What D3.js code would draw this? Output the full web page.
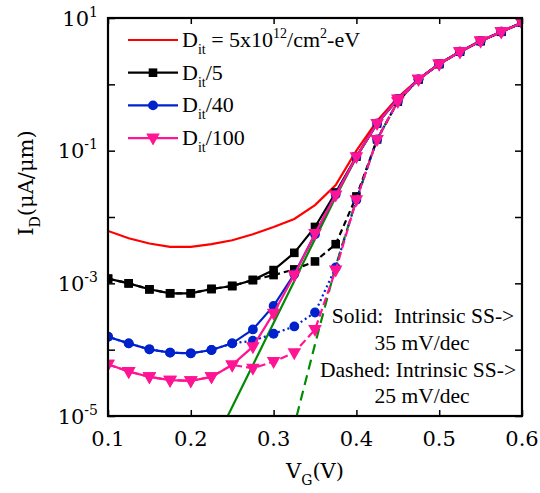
<!DOCTYPE html>
<html><head><meta charset="utf-8">
<script src="https://d3js.org/d3.v7.min.js"></script>
<style>body{margin:0;background:#fff}</style>
</head><body><svg id="c" width="540" height="493"></svg>
<script>
// Gate voltage samples (V)
const vg = [0.1,0.125,0.15,0.175,0.2,0.225,0.25,0.275,0.3,0.325,0.35,0.375,0.4,0.425,0.45,0.475,0.5,0.525,0.55,0.575,0.6];
// log10 of I_D (uA/um)
const redSolid   = [-2.21,-2.32,-2.40,-2.45,-2.45,-2.41,-2.35,-2.26,-2.15,-2.03,-1.82,-1.52,-1.00,-0.55,-0.20,0.08,0.31,0.49,0.65,0.79,0.93];
const blackSolid = [-2.93,-3.00,-3.09,-3.15,-3.15,-3.085,-3.04,-2.95,-2.80,-2.54,-2.15,-1.63,-1.09,-0.59,-0.22,0.076,0.307,0.492,0.653,0.793,0.929];
const blackDash  = [-2.93,-3.00,-3.09,-3.15,-3.15,-3.085,-3.04,-2.95,-2.875,-2.79,-2.67,-2.41,-1.69,-0.83,-0.26,0.076,0.307,0.492,0.653,0.793,0.929];
const blueSolid  = [-3.805,-3.905,-3.995,-4.045,-4.055,-4.005,-3.905,-3.695,-3.34,-2.86,-2.26,-1.66,-1.09,-0.59,-0.22,0.076,0.307,0.492,0.653,0.793,0.929];
const blueDot    = [-3.805,-3.905,-3.995,-4.045,-4.055,-4.005,-3.905,-3.865,-3.76,-3.65,-3.44,-2.76,-1.74,-0.83,-0.26,0.076,0.307,0.492,0.653,0.793,0.929];
const pinkSolid  = [-4.22,-4.33,-4.41,-4.46,-4.47,-4.41,-4.23,-3.955,-3.45,-2.875,-2.25,-1.67,-1.09,-0.59,-0.22,0.076,0.307,0.492,0.653,0.793,0.929];
const pinkDash   = [-4.22,-4.33,-4.41,-4.46,-4.47,-4.41,-4.23,-4.28,-4.18,-4.045,-3.695,-2.80,-1.74,-0.83,-0.26,0.076,0.307,0.492,0.653,0.793,0.929];
// intrinsic (Dit = 0) curves
const greenSolidV = [0.2446,0.375,0.4,0.425,0.45,0.475,0.5,0.525,0.55,0.575,0.6];
const greenSolid  = [-5.0,-1.70,-1.10,-0.59,-0.22,0.076,0.307,0.492,0.653,0.793,0.929];
const greenDashV  = [0.3279,0.35,0.375,0.4,0.425,0.45,0.475,0.5,0.525,0.55,0.575,0.6];
const greenDash   = [-5.0,-3.92,-2.74,-1.74,-0.83,-0.26,0.076,0.307,0.492,0.653,0.793,0.929];

const xTicks = [0.1,0.2,0.3,0.4,0.5,0.6];
const yTickExp = [1,0,-1,-2,-3,-4,-5];
const yLabelExp = [1,-1,-3,-5];
const annotation = ["Solid:  Intrinsic SS->","35 mV/dec","Dashed: Intrinsic SS->","25 mV/dec"];

const FONT = "DejaVu Serif";
const TFONT = "Liberation Serif";
const svg = d3.select("#c");
const L = 108, R = 522, T = 18, B = 416;
const x = d3.scaleLinear().domain([0.1,0.6]).range([L,R]);
const y = d3.scaleLog().domain([1e-5,10]).range([B,T]);

svg.append("clipPath").attr("id","clip").append("rect")
  .attr("x",L).attr("y",T).attr("width",R-L).attr("height",B-T);
const plot = svg.append("g").attr("clip-path","url(#clip)");

const toPts = (vs, ls) => vs.map((v,i)=>[v, Math.pow(10, ls[i])]);
const line = d3.line().x(d=>x(d[0])).y(d=>y(d[1]));

const RED="#ff0000", BLUE="#0022cc", PINK="#ff1493", GREEN="#008c00";

function marker(g, kind, cx, cy, color){
  if(kind==="sq") g.append("rect").attr("x",cx-4.3).attr("y",cy-4.3).attr("width",8.6).attr("height",8.6).attr("fill",color);
  else if(kind==="ci") g.append("circle").attr("cx",cx).attr("cy",cy).attr("r",4.9).attr("fill",color);
  else if(kind==="tr") g.append("path").attr("d",`M${cx-6.8},${cy-4.5} L${cx+6.8},${cy-4.5} L${cx},${cy+7.5} Z`).attr("fill",color);
}
function drawLine(pts, color, dash){
  plot.append("path").datum(pts).attr("d",line).attr("fill","none")
    .attr("stroke",color).attr("stroke-width",2.2)
    .attr("stroke-dasharray",dash||null);
}
function drawMarkers(pts, kind, color){
  const g = plot.append("g");
  pts.forEach(p=>marker(g, kind, x(p[0]), y(p[1]), color));
}

// green intrinsic lines
drawLine(toPts(greenSolidV, greenSolid), GREEN);
drawLine(toPts(greenDashV, greenDash), GREEN, "10,6");
// red
drawLine(toPts(vg, redSolid), RED);
// black
drawLine(toPts(vg, blackDash), "#000", "6,4"); drawMarkers(toPts(vg, blackDash), "sq", "#000");
drawLine(toPts(vg, blackSolid), "#000"); drawMarkers(toPts(vg, blackSolid), "sq", "#000");
// blue
drawLine(toPts(vg, blueDot), BLUE, "2,3"); drawMarkers(toPts(vg, blueDot), "ci", BLUE);
drawLine(toPts(vg, blueSolid), BLUE); drawMarkers(toPts(vg, blueSolid), "ci", BLUE);
// pink
drawLine(toPts(vg, pinkDash), PINK, "8,4"); drawMarkers(toPts(vg, pinkDash), "tr", PINK);
drawLine(toPts(vg, pinkSolid), PINK); drawMarkers(toPts(vg, pinkSolid), "tr", PINK);

// axes
const ax = svg.append("g");
ax.append("g").attr("transform",`translate(0,${B})`)
  .call(d3.axisBottom(x).tickValues(xTicks).tickSizeInner(-6).tickSizeOuter(0).tickFormat(""));
ax.append("g").attr("transform",`translate(0,${T})`)
  .call(d3.axisTop(x).tickValues(xTicks).tickSizeInner(-6).tickSizeOuter(0).tickFormat(""));
const yTicks = yTickExp.map(e=>Math.pow(10,e));
ax.append("g").attr("transform",`translate(${L},0)`)
  .call(d3.axisLeft(y).tickValues(yTicks).tickSizeInner(-7).tickSizeOuter(0).tickFormat(""));
ax.append("g").attr("transform",`translate(${R},0)`)
  .call(d3.axisRight(y).tickValues(yTicks).tickSizeInner(-7).tickSizeOuter(0).tickFormat(""));
ax.selectAll(".domain").remove();
ax.selectAll(".tick line").attr("stroke","#000").attr("stroke-width",1.5);
svg.append("rect").attr("x",L).attr("y",T).attr("width",R-L).attr("height",B-T)
  .attr("fill","none").attr("stroke","#000").attr("stroke-width",2.2);

// tick labels
xTicks.forEach(v=>{
  svg.append("text").attr("x",x(v)).attr("y",446).attr("text-anchor","middle")
    .attr("font-family",FONT).attr("font-size",21).text(v.toFixed(1));
});
yLabelExp.forEach(e=>{
  const t = svg.append("text").attr("x",98).attr("y",y(Math.pow(10,e))+7.5).attr("text-anchor","end")
    .attr("font-family",FONT).attr("font-size",21);
  t.append("tspan").text("10");
  t.append("tspan").attr("dy",-9).attr("font-size",14).text(String(e));
});

// axis titles
const xt = svg.append("text").attr("x",315).attr("y",478).attr("text-anchor","middle")
  .attr("font-family",FONT).attr("font-size",21);
xt.append("tspan").text("V");
xt.append("tspan").attr("dy",7).attr("font-size",14).text("G");
xt.append("tspan").attr("dy",-7).text("(V)");

const yt = svg.append("text").attr("transform","translate(33,183) rotate(-90)").attr("text-anchor","middle")
  .attr("font-family",FONT).attr("font-size",21);
yt.append("tspan").text("I");
yt.append("tspan").attr("dy",7).attr("font-size",14).text("D");
yt.append("tspan").attr("dy",-7).text("(\u03bcA/\u03bcm)");

// legend
const legend = [
  {c:RED, m:null, label:[["D",0],["it",1],[" = 5x10",0],["12",2],["/cm",0],["2",2],["-eV",0]]},
  {c:"#000", m:"sq", label:[["D",0],["it",1],["/5",0]]},
  {c:BLUE, m:"ci", label:[["D",0],["it",1],["/40",0]]},
  {c:PINK, m:"tr", label:[["D",0],["it",1],["/100",0]]}
];
const lg = svg.append("g");
legend.forEach((d,i)=>{
  const yy = 40 + i*32.7;
  lg.append("line").attr("x1",128).attr("x2",178).attr("y1",yy).attr("y2",yy)
    .attr("stroke",d.c).attr("stroke-width",2.2);
  if(d.m) marker(lg, d.m, 153, yy, d.c);
  const t = lg.append("text").attr("x",182).attr("y",yy+7).attr("font-family",TFONT).attr("font-size",22);
  let state = 0;
  d.label.forEach(([s,k])=>{
    let dy = 0;
    if(k===1){ dy = 7 - state; state = 7; }
    else if(k===2){ dy = -9 - state; state = -9; }
    else { dy = -state; state = 0; }
    const ts = t.append("tspan").attr("dy",dy).text(s);
    if(k) ts.attr("font-size",14);
  });
});

// annotation
const ann = svg.append("g").attr("font-family",TFONT).attr("font-size",21.5).attr("text-anchor","middle");
[[423,323],[422,350],[418,377],[422,403]].forEach((p,i)=>{
  ann.append("text").attr("x",p[0]).attr("y",p[1]).attr("xml:space","preserve").text(annotation[i]);
});
</script></body></html>
